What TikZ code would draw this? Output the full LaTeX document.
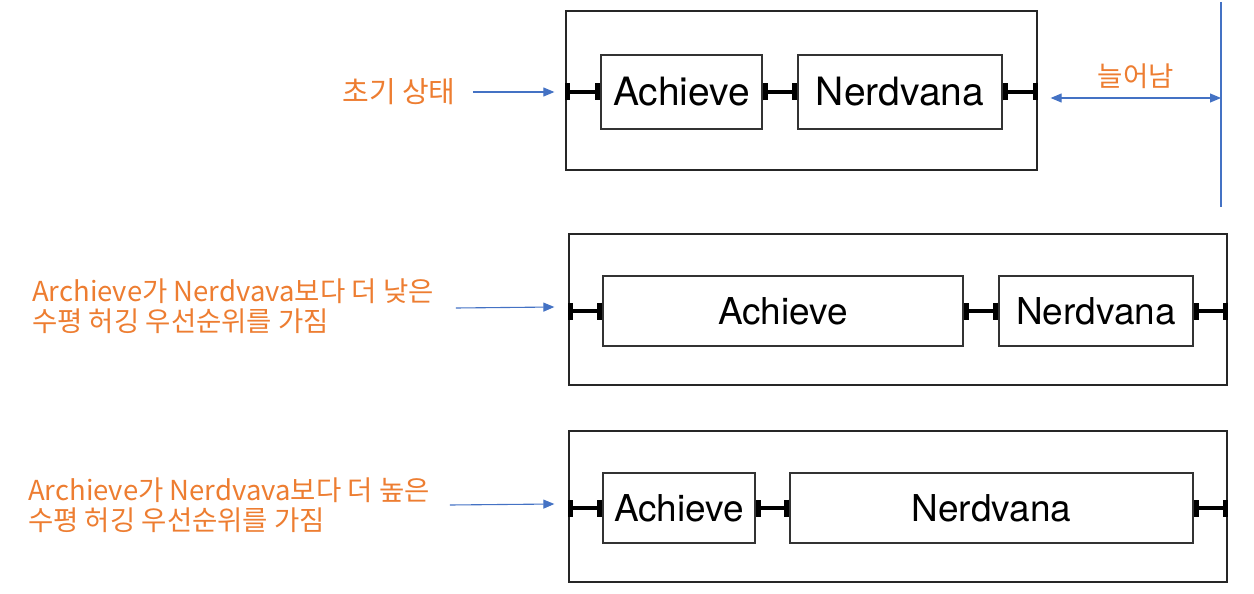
\documentclass[tikz,border=0pt]{standalone}
\usepackage{fontspec}
\setmainfont{TeX Gyre Heros}
\newfontfamily\krfont{Noto Sans CJK KR}
\usetikzlibrary{arrows.meta}
\definecolor{noteorange}{HTML}{ED7D31}
\definecolor{noteblue}{HTML}{4472C4}
\tikzset{
  viewbox/.style={draw=black!85, line width=1.3pt, inner sep=0pt},
  label box/.style={draw=black!80, line width=1.2pt, inner sep=0pt, font=\fontsize{37}{39}\selectfont},
  note/.style={text=noteorange, inner sep=0pt, font=\krfont\fontsize{27.5}{30}\selectfont},
  hug/.style={line width=4pt, {Bar[width=17pt,line width=5pt]}-{Bar[width=17pt,line width=5pt]}},
  pointer/.style={draw=noteblue, line width=1.1pt, -{Triangle[length=11pt,width=9pt]}}
}
\begin{document}
\begin{tikzpicture}[x=1pt, y=-1pt]
				\useasboundingbox (0,0) rectangle (1254,594);
				% Nodes
				\node[viewbox, minimum width=471pt, minimum height=159pt] (view1) at (801.5, 90.5) {};
				\node[label box, font=\fontsize{39}{41}\selectfont, minimum width=161pt, minimum height=74pt] (ach1) at (681.5, 92) {Achieve};
				\node[label box, font=\fontsize{39}{41}\selectfont, minimum width=204pt, minimum height=74pt] (nerd1) at (900, 92) {Nerdvana};

				\node[viewbox, minimum width=658pt, minimum height=151pt] (view2) at (898, 309.5) {};
				\node[label box, minimum width=360pt, minimum height=70pt] (ach2) at (783, 311) {Achieve};
				\node[label box, minimum width=194pt, minimum height=70pt] (nerd2) at (1096, 311) {Nerdvana};

				\node[viewbox, minimum width=658pt, minimum height=151pt] (view3) at (898, 506.5) {};
				\node[label box, minimum width=152pt, minimum height=70pt] (ach3) at (679, 508) {Achieve};
				\node[label box, minimum width=403pt, minimum height=70pt] (nerd3) at (991.5, 508) {Nerdvana};

				\node[note, font=\krfont\fontsize{29}{31}\selectfont] (init) at (399, 92) {초기 상태};
				\node[note, anchor=west, align=left] (lower) at (32, 306) {Archieve가 Nerdvava보다 더 낮은\\수평 허깅 우선순위를 가짐};
				\node[note, anchor=west, align=left] (higher) at (28, 505) {Archieve가 Nerdvava보다 더 높은\\수평 허깅 우선순위를 가짐};

				\coordinate (limTop) at (1221, 2);
				\coordinate (limBot) at (1221, 207);
				\coordinate (limMid) at (1221, 98);

				% Hugging constraints
				\draw[hug] (view1.west |- ach1) -- (ach1.west);
				\draw[hug] (ach1.east) -- (nerd1.west);
				\draw[hug] (nerd1.east) -- (view1.east |- nerd1);
				\draw[hug] (view2.west |- ach2) -- (ach2.west);
				\draw[hug] (ach2.east) -- (nerd2.west);
				\draw[hug] (nerd2.east) -- (view2.east |- nerd2);
				\draw[hug] (view3.west |- ach3) -- (ach3.west);
				\draw[hug] (ach3.east) -- (nerd3.west);
				\draw[hug] (nerd3.east) -- (view3.east |- nerd3);

				% Arrows
				\draw[pointer] ([xshift=17pt]init.east) -- ([xshift=-11pt]view1.west |- ach1);
				\draw[pointer] ([shift={(22,2)}]lower.east) -- ([shift={(-14,-4)}]view2.west |- ach2);
				\draw[pointer] ([xshift=20pt]higher.east) -- ([shift={(-14,-4)}]view3.west |- ach3);
				\draw[noteblue, line width=1.1pt] (limTop) -- (limBot);
				\draw[pointer, {Triangle[length=11pt,width=9pt]}-{Triangle[length=11pt,width=9pt]}] ([shift={(13,7.5)}]view1.east) -- node[note, above=9pt] (stretch) {늘어남} (limMid);
			\end{tikzpicture}
\end{document}
